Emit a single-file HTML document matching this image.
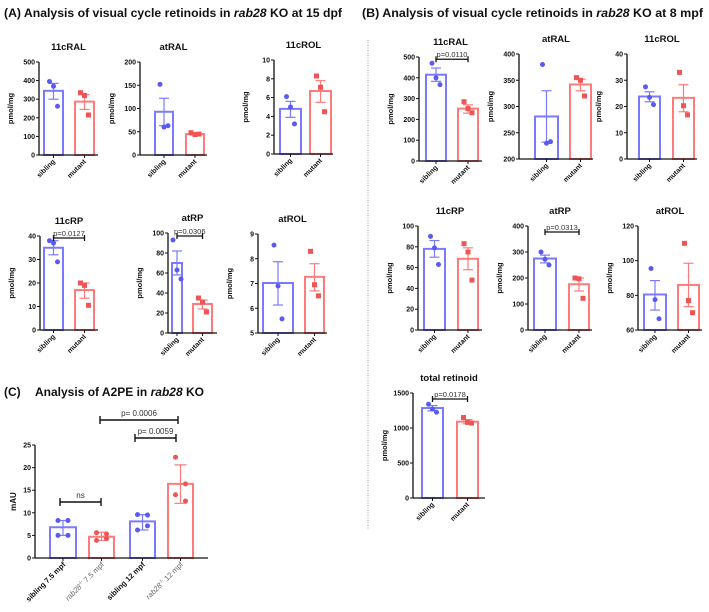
<!DOCTYPE html>
<html><head><meta charset="utf-8"><style>
html,body{margin:0;padding:0;background:#fff;}
svg{display:block;font-family:"Liberation Sans",Arial,sans-serif;}
</style></head><body>
<svg id="fig" width="709" height="612" viewBox="0 0 709 612">
<text x="4" y="17" font-size="12" font-weight="bold" fill="#111" textLength="338" lengthAdjust="spacingAndGlyphs">(A) Analysis of visual cycle retinoids in <tspan font-style="italic">rab28</tspan> KO at 15 dpf</text>
<text x="362" y="17" font-size="12" font-weight="bold" fill="#111" textLength="341" lengthAdjust="spacingAndGlyphs">(B) Analysis of visual cycle retinoids in <tspan font-style="italic">rab28</tspan> KO at 8 mpf</text>
<text x="4" y="396" font-size="12" font-weight="bold" fill="#111">(C)<tspan x="35">Analysis of A2PE in </tspan><tspan font-style="italic">rab28</tspan> KO</text>
<line x1="368" y1="40" x2="368" y2="530" stroke="#999" stroke-width="1" stroke-dasharray="1,1.5"/>
</svg>
<script>
// ---- data ----
const panelTitles = ["11cRAL","atRAL","11cROL","11cRP","atRP","atROL","11cRAL","atRAL","11cROL","11cRP","atRP","atROL","total retinoid"];
const groupLabels = ["sibling","mutant"];
const sibMeans = [345,93,4.8,35,70,7.02,415,281,23.8,78,275,80.5,1285];
const mutMeans = [287,45,6.7,17,29,7.27,252,342,23.3,68.5,176,86,1090];
const sibErrLo = [300,63,3.9,32,58,6.13,383,232,21.8,70,258,71.5,1245];
const sibErrHi = [385,122,5.6,38,82,7.88,447,330,25.6,86,288,88.5,1320];
const mutErrLo = [245,43,5.5,13.5,24,6.7,230,330,18,58,150,73.5,1060];
const mutErrHi = [325,47,7.8,20,33,7.8,270,352,28.3,79,200,98.5,1120];
const sibPoints = [[395,370,262],[152,60,63],[6.1,5.0,3.2],[38,37,29],[93,63,54],[8.55,6.9,5.57],[470,400,367],[380,230,233],[27.5,23.5,20.7],[90,79,63],[300,272,250],[95.5,77.5,66.5],[1340,1270,1225]];
const mutPoints = [[335,320,215],[48,44,45],[8.3,7.1,4.5],[20,19,10.5],[35,31,21],[8.3,6.95,6.5],[285,252,232],[355,350,320],[33,20.3,16.8],[83,75,48],[200,197,122],[110,77,70],[1150,1080,1070]];
const yMin = [0,0,0,0,0,5,0,200,0,0,0,60,0];
const yMax = [500,200,10,40,100,9,500,400,40,100,400,120,1500];
const yStep = [100,50,2,10,20,1,100,50,10,20,100,20,500];
const pValues = ["","","","p=0.0127","p=0.0306","","p=0.0110","","","","p=0.0313","","p=0.0178"];

const a2peLabels = ["sibling 7.5 mpf","rab28 7.5 mpf","sibling 12 mpf","rab28 12 mpf"];
const a2peMeans = [6.8,4.7,8.1,16.4];
const a2peErrLo = [5.0,3.9,6.2,12.1];
const a2peErrHi = [8.3,5.7,9.6,20.6];
const a2pePoints = [[8.3,8.3,5.0,5.0],[5.6,5.3,3.9,4.3],[9.6,9.5,6.2,7.1],[22.3,16.4,14.0,12.6]];
const a2peTicks = [0,5,10,15,20,25];

// ---- layout (pixel geometry, not data) ----
const layout = [
 {ax:39,top:62,bot:155,xe:98,b:[[43,64],[74,95]]},
 {ax:140,top:62,bot:155,xe:207,b:[[154,174],[185,205]]},
 {ax:274,top:60,bot:154,xe:333,b:[[279,302],[309,332]]},
 {ax:40,top:236,bot:330,xe:98,b:[[43,64],[74,95]]},
 {ax:168,top:233,bot:333,xe:217,b:[[171,183],[192,213]]},
 {ax:258,top:234,bot:333,xe:327,b:[[262,294],[304,325]]},
 {ax:419,top:57,bot:161,xe:482,b:[[425,447],[457,479]]},
 {ax:519,top:54,bot:159,xe:593,b:[[534,559],[569,592]]},
 {ax:627,top:54,bot:159,xe:697,b:[[638,661],[672,695]]},
 {ax:418,top:226,bot:330,xe:482,b:[[423,446],[457,479]]},
 {ax:528,top:226,bot:330,xe:592,b:[[533,557],[568,590]]},
 {ax:638,top:226,bot:330,xe:702,b:[[643,667],[677,700]]},
 {ax:413,top:393,bot:498,xe:485,b:[[421,444],[456,479]]}
];
const BLUE="#7a7aff", RED="#ff7a7a", BDOT="#5a5af0", RDOT="#f05555";
const NS="http://www.w3.org/2000/svg";
const svg=document.getElementById('fig');
function mk(tag,attrs,parent,txt){const e=document.createElementNS(NS,tag);for(const k in attrs)e.setAttribute(k,attrs[k]);if(txt!==undefined)e.textContent=txt;(parent||svg).appendChild(e);return e;}

function drawPanel(i){
  const L=layout[i];
  const g=mk('g',{});
  
  
  const y=v=>L.bot-(v-yMin[i])/(yMax[i]-yMin[i])*(L.bot-L.top);
  const cx=(L.ax+L.xe)/2;
  const t=mk('text',{x:cx,y:L.top-12,'font-size':9.5,'font-weight':'bold','text-anchor':'middle',fill:'#111'},g,panelTitles[i]);
  
  
  const means=[sibMeans[i],mutMeans[i]],lo=[sibErrLo[i],mutErrLo[i]],hi=[sibErrHi[i],mutErrHi[i]],pts=[sibPoints[i],mutPoints[i]];
  for(let k=0;k<2;k++){
    const [x0,x1]=L.b[k];const col=k?RED:BLUE;const dc=k?RDOT:BDOT;
    const r=mk('rect',{x:x0+1,y:y(means[k]),width:x1-x0-2,height:L.bot-y(means[k]),fill:'none',stroke:col,'stroke-width':2},g);
    
    
    const bc=(x0+x1)/2;
    mk('line',{x1:bc,x2:bc,y1:y(lo[k]),y2:y(hi[k]),stroke:col,'stroke-width':1.2},g);
    mk('line',{x1:bc-5,x2:bc+5,y1:y(lo[k]),y2:y(lo[k]),stroke:col,'stroke-width':1.2},g);
    mk('line',{x1:bc-5,x2:bc+5,y1:y(hi[k]),y2:y(hi[k]),stroke:col,'stroke-width':1.2},g);
    pts[k].forEach((v,j)=>{
      const px=bc+(j-1)*4;
      let m;
      if(k===0){m=mk('circle',{cx:px,cy:y(v),r:2.5,fill:dc},g);}
      else{m=mk('rect',{x:px-2.5,y:y(v)-2.5,width:5,height:5,fill:dc},g);}
      
      
    });
    const xl=mk('text',{x:bc+2,y:L.bot+7,'font-size':7,'font-weight':'bold','text-anchor':'end',fill:'#111',transform:`rotate(-45 ${bc+2} ${L.bot+7})`},g,groupLabels[k]);
    
    
  }
  mk('line',{x1:L.ax,x2:L.ax,y1:L.top,y2:L.bot,stroke:'#111','stroke-width':1.3},g);
  mk('line',{x1:L.ax,x2:L.xe,y1:L.bot,y2:L.bot,stroke:'#111','stroke-width':1.3},g);
  for(let v=yMin[i];v<=yMax[i]+1e-9;v+=yStep[i]){
    const yy=y(v);
    mk('line',{x1:L.ax-3,x2:L.ax,y1:yy,y2:yy,stroke:'#111','stroke-width':1},g);
    const tl=mk('text',{x:L.ax-4,y:yy+2.5,'font-size':7,'font-weight':'bold','text-anchor':'end',fill:'#111'},g,String(Math.round(v*100)/100));
    
    
  }
  for(let k=0;k<2;k++){const bc=(L.b[k][0]+L.b[k][1])/2;mk('line',{x1:bc,x2:bc,y1:L.bot,y2:L.bot+3,stroke:'#111','stroke-width':1},g);}
  const yt=(L.top+L.bot)/2, yx=L.ax-26;
  const yl=mk('text',{x:yx,y:yt,'font-size':7.5,'font-weight':'bold','text-anchor':'middle',fill:'#111',transform:`rotate(-90 ${yx} ${yt})`},g,'pmol/mg');
  
  
  if(pValues[i]){
    const b0=(L.b[0][0]+L.b[0][1])/2,b1=(L.b[1][0]+L.b[1][1])/2;
    const by=Math.max(L.top+2, y(Math.max(sibPoints[i][0],sibErrHi[i]))-4);
    const bracketY=Math.min(by, L.top+6);
    mk('path',{d:`M${b0} ${bracketY-3}V${bracketY+3}M${b0} ${bracketY}H${b1}M${b1} ${bracketY-3}V${bracketY+3}`,stroke:'#111','stroke-width':1.3,fill:'none'},g);
    const pt=mk('text',{x:(b0+b1)/2,y:bracketY-2,'font-size':7.5,'text-anchor':'middle',fill:'#333'},g,pValues[i]);
    
    
  }
}
for(let i=0;i<panelTitles.length;i++)drawPanel(i);

// ---- Panel C ----
(function(){
  const g=mk('g',{});
  
  
  const ax=35,top=445,bot=558,xe=208;
  const bx=[[49,77],[88,115],[129,156],[167,194]];
  const y=v=>bot-v/25*(bot-top);
  a2peMeans.forEach((m,k)=>{
    const col=k%2?RED:BLUE,dc=k%2?RDOT:BDOT;const [x0,x1]=bx[k];const bc=(x0+x1)/2;
    const r=mk('rect',{x:x0+1,y:y(m),width:x1-x0-2,height:bot-y(m),fill:'none',stroke:col,'stroke-width':2},g);
    
    
    mk('line',{x1:bc,x2:bc,y1:y(a2peErrLo[k]),y2:y(a2peErrHi[k]),stroke:col,'stroke-width':1.2},g);
    mk('line',{x1:bc-6,x2:bc+6,y1:y(a2peErrLo[k]),y2:y(a2peErrLo[k]),stroke:col,'stroke-width':1.2},g);
    mk('line',{x1:bc-6,x2:bc+6,y1:y(a2peErrHi[k]),y2:y(a2peErrHi[k]),stroke:col,'stroke-width':1.2},g);
    a2pePoints[k].forEach((v,j)=>{
      const c=mk('circle',{cx:bc+(j%2?5:-5),cy:y(v),r:2.5,fill:dc},g);
      
      
    });
    mk('line',{x1:bc,x2:bc,y1:bot,y2:bot+3,stroke:'#111','stroke-width':1},g);
    const lx=bc+3,ly=bot+7;
    let t;
    if(k%2){
      t=mk('text',{x:lx,y:ly,'font-size':7.5,'text-anchor':'end',fill:'#666',transform:`rotate(-45 ${lx} ${ly})`},g);
      mk('tspan',{'font-style':'italic'},t,'rab28');
      mk('tspan',{'font-size':5,dy:-3},t,'-/-');
      mk('tspan',{dy:3},t,a2peLabels[k].replace('rab28',''));
    } else {
      t=mk('text',{x:lx,y:ly,'font-size':7.5,'font-weight':'bold','text-anchor':'end',fill:'#111',transform:`rotate(-45 ${lx} ${ly})`},g,a2peLabels[k]);
    }
    
    
  });
  mk('line',{x1:ax,x2:ax,y1:top,y2:bot,stroke:'#111','stroke-width':1.3},g);
  mk('line',{x1:ax,x2:xe,y1:bot,y2:bot,stroke:'#111','stroke-width':1.3},g);
  a2peTicks.forEach(v=>{
    mk('line',{x1:ax-3,x2:ax,y1:y(v),y2:y(v),stroke:'#111','stroke-width':1},g);
    const tl=mk('text',{x:ax-4,y:y(v)+2.5,'font-size':7,'font-weight':'bold','text-anchor':'end',fill:'#111'},g,String(v));
    
    
  });
  const yl=mk('text',{x:16,y:(top+bot)/2,'font-size':8,'font-weight':'bold','text-anchor':'middle',fill:'#111',transform:`rotate(-90 16 ${(top+bot)/2})`},g,'mAU');
  
  
  const brackets=[[60,101,502,'ns'],[100,178,420,'p= 0.0006'],[135,176,438,'p= 0.0059']];
  brackets.forEach(b=>{
    mk('path',{d:`M${b[0]} ${b[2]-4}V${b[2]+4}M${b[0]} ${b[2]}H${b[1]}M${b[1]} ${b[2]-4}V${b[2]+4}`,stroke:'#111','stroke-width':1.4,fill:'none'},g);
    const t=mk('text',{x:(b[0]+b[1])/2,y:b[2]-4,'font-size':8,'text-anchor':'middle',fill:'#333'},g,b[3]);
    
    
  });
})();
</script>
</body></html>
